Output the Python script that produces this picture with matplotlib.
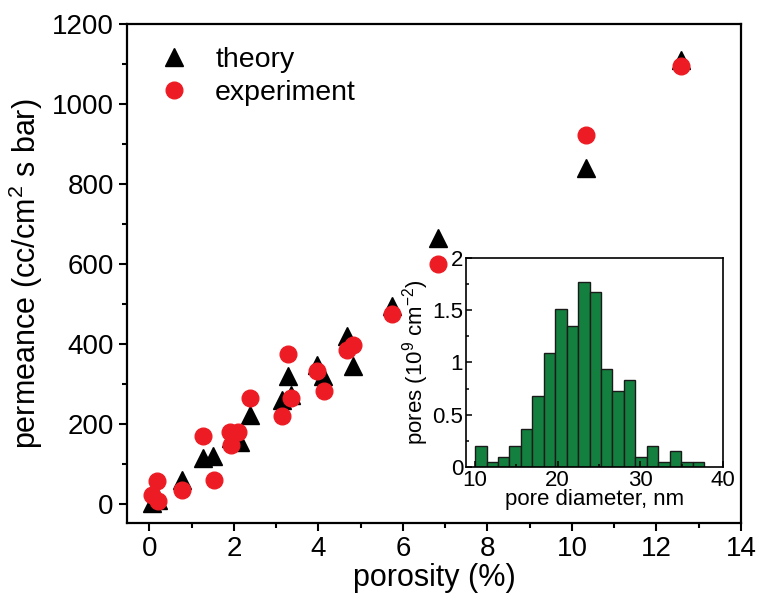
"""Permeance vs porosity with pore diameter histogram inset."""

import matplotlib
matplotlib.use("Agg")
import matplotlib.pyplot as plt
import numpy as np

plt.rcParams["font.family"] = ["Liberation Sans", "DejaVu Sans"]
plt.rcParams["mathtext.fontset"] = "custom"
plt.rcParams["mathtext.rm"] = "Liberation Sans"
plt.rcParams["mathtext.it"] = "Liberation Sans:italic"

# theory points (porosity %, permeance)
theory_x = [0.05, 0.2, 0.76, 1.27, 1.51, 1.94, 2.14, 2.38, 3.13, 3.29, 3.36,
            3.96, 4.12, 4.67, 4.83, 5.73, 6.82, 10.33, 12.57]
theory_y = [3, 10, 62, 116, 120, 166, 157, 224, 262, 322, 274,
            349, 320, 420, 345, 497, 665, 841, 1112]

# experiment points
exp_x = [0.05, 0.2, 0.19, 0.76, 1.26, 1.52, 1.9, 1.93, 2.1, 2.38, 3.13, 3.27,
         3.36, 3.97, 4.13, 4.67, 4.83, 5.73, 6.82, 10.33, 12.57]
exp_y = [24, 9, 59, 37, 172, 62, 182, 149, 182, 266, 222, 376,
         266, 333, 284, 387, 399, 477, 602, 924, 1095]

# pore diameter histogram
bin_start = 10.0
bin_width = 1.385
pore_counts = [0.20, 0.05, 0.10, 0.20, 0.36, 0.68, 1.09, 1.51, 1.35, 1.77,
               1.67, 0.94, 0.73, 0.83, 0.10, 0.20, 0.05, 0.15, 0.05, 0.05]


def main():
    fig = plt.figure(figsize=(7.57, 6.01), dpi=100)
    ax = fig.add_axes([0.1678, 0.1303, 0.811, 0.829])

    ax.plot(theory_x, theory_y, "^", color="black", markersize=13,
            linestyle="none", label="theory")
    ax.plot(exp_x, exp_y, "o", color="#ed1c24", markersize=12,
            linestyle="none", label="experiment")

    ax.set_xlim(-0.53, 14)
    ax.set_ylim(-46, 1200)
    ax.set_xticks(np.arange(0, 15, 2))
    ax.set_xticks(np.arange(1, 14, 2), minor=True)
    ax.set_yticks(np.arange(0, 1201, 200))
    ax.set_yticks(np.arange(100, 1200, 200), minor=True)
    ax.tick_params(which="major", direction="out", length=6, width=1.5,
                   labelsize=20)
    ax.tick_params(which="minor", direction="out", length=3.5, width=1.5)
    for s in ax.spines.values():
        s.set_linewidth(1.6)

    ax.set_xlabel("porosity (%)", fontsize=22, labelpad=1)
    ax.set_ylabel("permeance (cc/cm$^2$ s bar)", fontsize=22, labelpad=5)

    ax.legend(loc="upper left", bbox_to_anchor=(0.03, 0.978), frameon=False,
              fontsize=20.5, handlelength=1.2, handletextpad=0.85,
              labelspacing=0.25, borderaxespad=0)

    # inset histogram
    ins = fig.add_axes([0.6156, 0.223, 0.3395, 0.348])
    n = len(pore_counts)
    lefts = bin_start + bin_width * np.arange(n)
    ins.bar(lefts, pore_counts, width=bin_width, align="edge",
            color="#14803f", edgecolor="#1a1a1a", linewidth=1.0)
    ins.set_xlim(8.9, 40)
    ins.set_ylim(0, 2)
    ins.set_xticks([10, 20, 30, 40])
    ins.set_xticks([15, 25, 35], minor=True)
    ins.set_yticks([0, 0.5, 1, 1.5, 2])
    ins.set_yticklabels(["0", "0.5", "1", "1.5", "2"])
    ins.set_yticks([0.25, 0.75, 1.25, 1.75], minor=True)
    ins.tick_params(which="major", direction="in", length=4, width=1.1,
                    labelsize=16, pad=2)
    ins.tick_params(which="minor", direction="in", length=2.5, width=1.1)
    for s in ins.spines.values():
        s.set_linewidth(1.2)
    ins.set_xlabel("pore diameter, nm", fontsize=16, labelpad=-1)
    ins.set_ylabel("pores (10$^9$ cm$^{-2}$)", fontsize=16, labelpad=1)

    fig.savefig("out.png", dpi=100)
    plt.close(fig)


if __name__ == "__main__":
    main()
